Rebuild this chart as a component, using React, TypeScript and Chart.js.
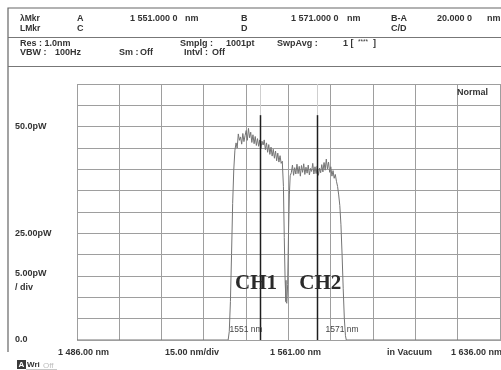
import React, { useEffect, useRef } from 'react';
import { Chart, registerables } from 'chart.js';

Chart.register(...registerables);

// Wavelength (nm) and optical power (pW) of the trace
const wavelengthsNm = [
  1486, 1539.6, 1540.0, 1540.4, 1540.8, 1541.2, 1541.6, 1542.0, 1542.4, 1542.8,
  1543.2, 1543.6, 1544.0, 1544.4, 1544.8, 1545.2, 1545.6, 1546.0, 1546.4, 1546.8,
  1547.2, 1547.6, 1548.0, 1548.4, 1548.8, 1549.2, 1549.6, 1550.0, 1550.4, 1550.8,
  1551.2, 1551.6, 1552.0, 1552.4, 1552.8, 1553.2, 1553.6, 1554.0, 1554.4, 1554.8,
  1555.2, 1555.6, 1556.0, 1556.4, 1556.8, 1557.2, 1557.6, 1558.0, 1558.4, 1558.8,
  1559.2, 1559.5, 1559.8, 1560.1, 1560.4, 1560.7, 1561.0, 1561.3, 1561.6,
  1562.0, 1562.4, 1562.8, 1563.2, 1563.6, 1564.0, 1564.4, 1564.8, 1565.2, 1565.6,
  1566.0, 1566.4, 1566.8, 1567.2, 1567.6, 1568.0, 1568.4, 1568.8, 1569.2, 1569.6,
  1570.0, 1570.4, 1570.8, 1571.2, 1571.6, 1572.0, 1572.4, 1572.8, 1573.2, 1573.6,
  1574.0, 1574.4, 1574.8, 1575.2, 1575.6, 1576.0, 1576.4, 1576.8, 1577.2, 1577.6,
  1578.0, 1578.4, 1578.8, 1579.2, 1579.6, 1580.0, 1580.4, 1580.8, 1581.2, 1581.5,
  1636,
];
const powerPw = [
  0, 0, 2, 9, 20, 32, 40, 44.5, 46.2, 45.0,
  48.3, 46.8, 47.6, 45.9, 48.4, 46.5, 47.9, 49.1, 46.8, 49.6,
  47.4, 48.7, 46.3, 48.1, 46.0, 47.7, 45.6, 47.2, 45.4, 46.9,
  44.8, 46.6, 45.7, 46.9, 44.6, 46.2, 44.0, 45.8, 43.5, 45.2,
  43.1, 44.7, 42.6, 44.3, 42.0, 43.8, 41.7, 43.2, 41.4, 41.9,
  36, 24, 14, 9, 8.6, 13, 25, 34, 38.5,
  39.2, 41.0, 38.6, 40.4, 38.9, 41.2, 39.0, 40.7, 38.4, 40.9,
  39.3, 41.3, 38.8, 40.5, 39.1, 41.0, 38.7, 40.2, 39.5, 41.4,
  38.9, 40.6, 39.0, 40.8, 38.6, 40.3, 39.2, 41.1, 39.4, 41.6,
  39.8, 42.4, 40.1, 41.7, 39.3, 40.6, 38.4, 39.7, 37.9, 38.8,
  37.2, 36.0, 34.0, 31.5, 27, 20, 12, 5, 1, 0,
  0,
];

const markerNm = [1551, 1571];
const markerLabels = ['1551 nm', '1571 nm'];
const channelNames = ['CH1', 'CH2'];
const channelNm = [1549.5, 1572.3];
const yTickLabels: Record<number, string> = { 50: '50.0pW', 25: '25.00pW', 0: '0.0' };

const SANS = '"Liberation Sans", Arial, sans-serif';
const GRID = '#9e9e9e';
const TXT = '#333333';
const MARKER_LABEL_DX = [-31, 8];

function txt(ctx: CanvasRenderingContext2D, s: string, x: number, y: number, size = 9, weight = 'bold', color = TXT, family = SANS) {
  ctx.font = `${weight} ${size}px ${family}`;
  ctx.fillStyle = color;
  ctx.textAlign = 'left';
  ctx.textBaseline = 'middle';
  ctx.fillText(s, x, y);
}

const decorPlugin = {
  id: 'osaDecor',
  afterDatasetsDraw(chart: any) {
    const { ctx, scales, chartArea } = chart;
    const x = scales.x;
    const y = scales.y;
    ctx.save();
    markerNm.forEach((nm, i) => {
      const px = Math.round(x.getPixelForValue(nm)) + 0.5;
      ctx.strokeStyle = '#cfcfcf';
      ctx.lineWidth = 1;
      ctx.beginPath();
      ctx.moveTo(px, chartArea.top);
      ctx.lineTo(px, y.getPixelForValue(52.7));
      ctx.stroke();
      ctx.strokeStyle = '#1e1e1e';
      ctx.lineWidth = 1.5;
      ctx.beginPath();
      ctx.moveTo(px, y.getPixelForValue(52.7));
      ctx.lineTo(px, chartArea.bottom);
      ctx.stroke();
      txt(ctx, markerLabels[i], px + MARKER_LABEL_DX[i], y.getPixelForValue(2.4), 8.5, 'normal', '#444');
    });
    channelNames.forEach((name, i) => {
      ctx.font = `bold 21px "Liberation Serif", "Times New Roman", serif`;
      ctx.fillStyle = '#2a2a2a';
      ctx.textAlign = 'center';
      ctx.textBaseline = 'middle';
      ctx.fillText(name, x.getPixelForValue(channelNm[i]), y.getPixelForValue(13.3));
    });
    ctx.restore();
  },
  afterDraw(chart: any) {
    const { ctx } = chart;
    ctx.save();
    ctx.strokeStyle = '#666';
    ctx.lineWidth = 1.2;
    ctx.beginPath();
    ctx.moveTo(8, 352);
    ctx.lineTo(8, 8);
    ctx.lineTo(501, 8);
    ctx.stroke();
    ctx.strokeStyle = '#777';
    ctx.lineWidth = 1;
    ctx.beginPath();
    ctx.moveTo(8, 37.5);
    ctx.lineTo(501, 37.5);
    ctx.moveTo(8, 66.5);
    ctx.lineTo(501, 66.5);
    ctx.stroke();

    txt(ctx, 'λMkr', 20, 18.5, 8.5);
    txt(ctx, 'A', 77, 18.5);
    txt(ctx, '1 551.000 0', 130, 18.5);
    txt(ctx, 'nm', 185, 18.5);
    txt(ctx, 'B', 241, 18.5);
    txt(ctx, '1 571.000 0', 291, 18.5);
    txt(ctx, 'nm', 347, 18.5);
    txt(ctx, 'B-A', 391, 18.5);
    txt(ctx, '20.000 0', 437, 18.5);
    txt(ctx, 'nm', 487, 18.5);
    txt(ctx, 'LMkr', 20, 28.5, 8.5);
    txt(ctx, 'C', 77, 28.5);
    txt(ctx, 'D', 241, 28.5);
    txt(ctx, 'C/D', 391, 28.5);
    txt(ctx, 'Res : 1.0nm', 20, 43.5);
    txt(ctx, 'Smplg :', 180, 43.5);
    txt(ctx, '1001pt', 226, 43.5);
    txt(ctx, 'SwpAvg :', 277, 43.5);
    txt(ctx, '1 [', 343, 43.5);
    txt(ctx, '****', 358, 42, 6.5, 'normal');
    txt(ctx, ']', 373, 43.5);
    txt(ctx, 'VBW :', 20, 52.5);
    txt(ctx, '100Hz', 55, 52.5);
    txt(ctx, 'Sm :', 119, 52.5);
    txt(ctx, 'Off', 140, 52.5);
    txt(ctx, 'Intvl :', 184, 52.5);
    txt(ctx, 'Off', 212, 52.5);

    txt(ctx, 'Normal', 457, 92.5);
    txt(ctx, '5.00pW', 15, 274);
    txt(ctx, '/ div', 15, 288);

    txt(ctx, '1 486.00 nm', 58, 353);
    txt(ctx, '15.00 nm/div', 165, 353);
    txt(ctx, '1 561.00 nm', 270, 353);
    txt(ctx, 'in Vacuum', 387, 353);
    txt(ctx, '1 636.00 nm', 451, 353);

    ctx.fillStyle = '#3a3a3a';
    ctx.fillRect(17, 360, 9, 9);
    txt(ctx, 'A', 18.5, 365, 8, 'bold', '#fff');
    txt(ctx, 'Wri', 27, 365, 8, 'bold', '#333');
    txt(ctx, 'Off', 43, 365.5, 8, 'normal', '#bdbdbd');
    ctx.strokeStyle = '#c8c8c8';
    ctx.lineWidth = 1;
    ctx.beginPath();
    ctx.moveTo(26, 369.5);
    ctx.lineTo(57, 369.5);
    ctx.stroke();
    ctx.restore();
  },
};

export default function App() {
  const ref = useRef<HTMLCanvasElement | null>(null);
  useEffect(() => {
    if (!ref.current) return;
    const points = wavelengthsNm.map((w, i) => ({ x: w, y: powerPw[i] }));
    const chart = new Chart(ref.current, {
      type: 'line',
      data: {
        datasets: [
          {
            data: points,
            borderColor: '#747474',
            borderWidth: 1,
            pointRadius: 0,
            tension: 0,
            fill: false,
          },
        ],
      },
      options: {
        responsive: false,
        animation: false,
        devicePixelRatio: 1,
        layout: { padding: { left: 15, right: 1, top: 84, bottom: 30 } },
        plugins: { legend: { display: false }, tooltip: { enabled: false } },
        scales: {
          x: {
            type: 'linear',
            min: 1486,
            max: 1636,
            ticks: { stepSize: 15, display: false },
            grid: { color: GRID, lineWidth: 1, drawTicks: false },
            border: { display: true, color: GRID },
          },
          y: {
            type: 'linear',
            min: 0,
            max: 60,
            ticks: {
              stepSize: 5,
              callback: (v: any) => yTickLabels[Number(v)] ?? '',
              crossAlign: 'far',
              padding: 0,
              color: TXT,
              font: { family: SANS, size: 9, weight: 'bold' },
            },
            grid: { color: GRID, lineWidth: 1, drawTicks: false },
            border: { display: true, color: GRID },
            afterFit: (s: any) => {
              s.width = 62;
            },
          },
        },
      } as any,
      plugins: [decorPlugin],
    });
    return () => chart.destroy();
  }, []);
  return (
    <div style={{ position: 'fixed', left: 0, top: 0, width: 501, height: 370, background: '#fff' }}>
      <canvas ref={ref} width={501} height={370} style={{ display: 'block', width: 501, height: 370 }} />
    </div>
  );
}
